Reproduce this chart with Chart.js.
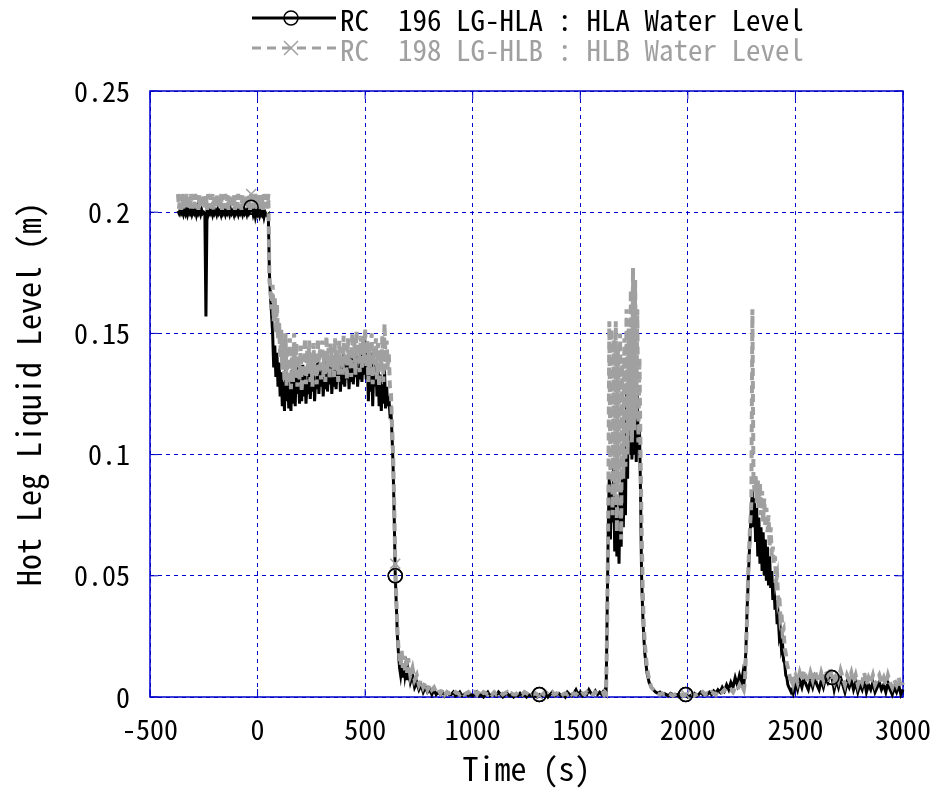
<!DOCTYPE html>
<html>
<head>
<meta charset="utf-8">
<script src="https://cdn.jsdelivr.net/npm/chart.js@4.4.0/dist/chart.umd.min.js"></script>
<style>
    body { margin: 0; background: #fff; }
    #wrap { position: relative; width: 933px; height: 792px; }
    #legend {
        position: absolute; left: 250px; top: 3px;
        font-family: 'Noto Sans Mono CJK JP', 'Liberation Mono', monospace;
        font-size: 29px; line-height: 30px;
    }
    .row { display: flex; align-items: center; height: 30px; white-space: pre; }
    .row svg { width: 90px; height: 30px; flex: none; }
</style>
</head>
<body>
<div id="wrap">
    <canvas id="levelChart" width="933" height="792"></canvas>
    <div id="legend">
        <div class="row" style="color:#000">
            <svg viewBox="0 0 90 30"><line x1="2" y1="15" x2="86" y2="15" stroke="#000" stroke-width="3"/><circle cx="41" cy="15" r="7" fill="none" stroke="#000" stroke-width="1.5"/></svg><span>RC  196 LG-HLA : HLA Water Level</span>
        </div>
        <div class="row" style="color:#a0a0a0">
            <svg viewBox="0 0 90 30"><line x1="2" y1="15" x2="86" y2="15" stroke="#a0a0a0" stroke-width="3" stroke-dasharray="9 6"/><path d="M34 8 L48 22 M48 8 L34 22" stroke="#a0a0a0" stroke-width="1.5"/></svg><span>RC  198 LG-HLB : HLB Water Level</span>
        </div>
    </div>
</div>
<script>
// stretches of the record: first time (s), sample step (s), number of samples
const stretches = [
    { start: -400, step: 5, count: 220 },   // steady state, first drain
    { start: 700, step: 10, count: 90 },
    { start: 1600, step: 5, count: 40 },    // first surge
    { start: 1800, step: 10, count: 45 },
    { start: 2250, step: 5, count: 50 },    // second surge
    { start: 2500, step: 10, count: 51 }
];

// RC 196 LG-HLA : HLA water level (m)
const levelHLA = [
    // -400 .. 695 s
    null, null, null, null, null, null, 0.2005, 0.1995, 0.201, 0.1995,
    0.2005, 0.199, 0.201, 0.1995, 0.2015, 0.199, 0.2005, 0.1995, 0.201, 0.199,
    0.2005, 0.1995, 0.201, 0.199, 0.2015, 0.1995, 0.2005, 0.199, 0.201, 0.1995,
    0.2, 0.1995, 0.157, 0.2005, 0.199, 0.201, 0.1995, 0.2005, 0.199, 0.2015,
    0.1995, 0.2005, 0.199, 0.201, 0.1995, 0.2005, 0.199, 0.2015, 0.1995, 0.2005,
    0.199, 0.201, 0.1995, 0.2005, 0.199, 0.201, 0.1995, 0.2005, 0.199, 0.2015,
    0.1995, 0.2005, 0.199, 0.201, 0.1995, 0.2005, 0.199, 0.201, 0.1995, 0.2005,
    0.199, 0.201, 0.1995, 0.2005, 0.202, 0.2015, 0.199, 0.2005, 0.198, 0.2,
    0.199, 0.2005, 0.1985, 0.2, 0.199, 0.2005, 0.198, 0.2, 0.199, 0.1985,
    0.199, 0.175, 0.165, 0.158, 0.15, 0.136, 0.145, 0.132, 0.142, 0.128,
    0.138, 0.124, 0.134, 0.12, 0.13, 0.118, 0.136, 0.122, 0.132, 0.119,
    0.128, 0.118, 0.135, 0.121, 0.13, 0.12, 0.138, 0.125, 0.133, 0.121,
    0.131, 0.122, 0.137, 0.124, 0.134, 0.121, 0.13, 0.125, 0.138, 0.123,
    0.133, 0.126, 0.136, 0.122, 0.131, 0.127, 0.139, 0.125, 0.134, 0.128,
    0.137, 0.124, 0.132, 0.127, 0.14, 0.126, 0.135, 0.129, 0.138, 0.125,
    0.133, 0.128, 0.141, 0.127, 0.136, 0.13, 0.139, 0.126, 0.134, 0.129,
    0.142, 0.128, 0.137, 0.131, 0.14, 0.127, 0.135, 0.13, 0.143, 0.129,
    0.138, 0.132, 0.141, 0.128, 0.136, 0.131, 0.145, 0.13, 0.139, 0.133,
    0.147, 0.131, 0.14, 0.122, 0.136, 0.126, 0.142, 0.12, 0.134, 0.128,
    0.139, 0.124, 0.137, 0.12, 0.133, 0.118, 0.129, 0.121, 0.135, 0.119,
    0.128, 0.12, 0.124, 0.117, 0.118, 0.108, 0.095, 0.075, 0.05, 0.038,
    0.025, 0.018, 0.012, 0.009, 0.013, 0.008, 0.014, 0.009, 0.012, 0.007,
    // 700 .. 1590 s
    0.011, 0.006, 0.009, 0.004, 0.006, 0.003, 0.005, 0.002, 0.004, 0.002,
    0.003, 0.001, 0.003, 0.001, 0.002, 0.001, 0.002, 0.0005, 0.002, 0.001,
    0.001, 0.002, 0.0005, 0.001, 0.002, 0.0005, 0.001, 0.0015, 0.0005, 0.001,
    0.0005, 0.001, 0.002, 0.0005, 0.001, 0, 0.001, 0.002, 0.0005, 0.001,
    0.001, 0.0005, 0.002, 0.001, 0, 0.001, 0.0015, 0.0005, 0.001, 0,
    0.001, 0.0005, 0.0015, 0.0005, 0.001, 0, 0.001, 0.0005, 0.0015, 0.0005,
    0, 0.001, 0.0005, 0.001, 0.0015, 0, 0.001, 0.002, 0.0005, 0.001,
    0.0015, 0.0005, 0.001, 0, 0.002, 0.001, 0.0005, 0.0015, 0.003, 0.001,
    0.002, 0.0005, 0.0015, 0.001, 0.003, 0.0015, 0.001, 0.0025, 0.001, 0.002,
    // 1600 .. 1795 s
    0.001, 0.002, 0.0015, 0.003, 0.002, 0.035, 0.07, 0.092, 0.065, 0.088,
    0.072, 0.095, 0.06, 0.082, 0.058, 0.078, 0.055, 0.085, 0.062, 0.09,
    0.07, 0.098, 0.075, 0.125, 0.09, 0.15, 0.1, 0.13, 0.098, 0.122,
    0.1, 0.118, 0.097, 0.125, 0.102, 0.112, 0.085, 0.05, 0.035, 0.025,
    // 1800 .. 2240 s
    0.018, 0.01, 0.006, 0.004, 0.003, 0.002, 0.0015, 0.002, 0.001, 0.0015,
    0.001, 0.0005, 0.0015, 0.001, 0.0005, 0.001, 0, 0.001, 0.0005, 0.001,
    0, 0.0005, 0.001, 0.0015, 0.0005, 0.001, 0.002, 0.001, 0.0015, 0.001,
    0.002, 0.001, 0.0025, 0.0015, 0.003, 0.002, 0.004, 0.0025, 0.005, 0.003,
    0.006, 0.004, 0.008, 0.005, 0.009,
    // 2250 .. 2495 s
    0.006, 0.009, 0.005, 0.01, 0.02, 0.035, 0.047, 0.058, 0.068, 0.078,
    0.085, 0.07, 0.082, 0.064, 0.078, 0.058, 0.074, 0.055, 0.07, 0.052,
    0.068, 0.05, 0.065, 0.048, 0.062, 0.046, 0.058, 0.045, 0.052, 0.04,
    0.047, 0.036, 0.04, 0.03, 0.033, 0.025, 0.027, 0.02, 0.022, 0.015,
    0.014, 0.009, 0.008, 0.005, 0.004, 0.003, 0.002, 0.003, 0.0015, 0.003,
    // 2500 .. 3000 s
    0.006, 0.003, 0.007, 0.004, 0.008, 0.005, 0.003, 0.007, 0.004, 0.008,
    0.005, 0.003, 0.007, 0.004, 0.008, 0.006, 0.009, 0.008, 0.003, 0.007,
    0.004, 0.008, 0.005, 0.002, 0.006, 0.004, 0.007, 0.003, 0.006, 0.002,
    0.005, 0.003, 0.007, 0.002, 0.005, 0.003, 0.006, 0.002, 0.004, 0.006,
    0.003, 0.005, 0.002, 0.006, 0.003, 0.001, 0.004, 0.002, 0.005, 0.001,
    0.003
];

// RC 198 LG-HLB : HLB water level (m)
const levelHLB = [
    // -400 .. 695 s
    null, null, null, null, null, null, 0.2075, 0.2015, 0.207, 0.201,
    0.2075, 0.2015, 0.207, 0.202, 0.2075, 0.2015, 0.207, 0.201, 0.2075, 0.2015,
    0.207, 0.202, 0.2075, 0.2015, 0.207, 0.201, 0.2075, 0.2015, 0.207, 0.202,
    0.2075, 0.2015, 0.207, 0.201, 0.2075, 0.202, 0.207, 0.2015, 0.2075, 0.201,
    0.207, 0.2015, 0.2075, 0.202, 0.207, 0.2015, 0.2075, 0.201, 0.207, 0.202,
    0.2075, 0.2015, 0.207, 0.201, 0.2075, 0.202, 0.207, 0.2015, 0.2075, 0.201,
    0.207, 0.202, 0.2075, 0.2015, 0.207, 0.201, 0.2075, 0.2015, 0.207, 0.202,
    0.2075, 0.2015, 0.207, 0.201, 0.2075, 0.2015, 0.207, 0.202, 0.2075, 0.2015,
    0.207, 0.201, 0.2075, 0.2015, 0.207, 0.201, 0.2075, 0.202, 0.207, 0.2015,
    0.2075, 0.172, 0.168, 0.16, 0.17, 0.155, 0.165, 0.15, 0.162, 0.148,
    0.155, 0.14, 0.152, 0.135, 0.148, 0.13, 0.15, 0.128, 0.145, 0.132,
    0.148, 0.127, 0.143, 0.13, 0.15, 0.133, 0.146, 0.128, 0.141, 0.131,
    0.145, 0.126, 0.14, 0.132, 0.148, 0.129, 0.143, 0.134, 0.147, 0.13,
    0.142, 0.128, 0.146, 0.133, 0.14, 0.129, 0.148, 0.135, 0.144, 0.131,
    0.147, 0.132, 0.142, 0.13, 0.149, 0.134, 0.144, 0.131, 0.146, 0.136,
    0.141, 0.132, 0.148, 0.135, 0.143, 0.13, 0.147, 0.136, 0.142, 0.133,
    0.149, 0.134, 0.145, 0.131, 0.148, 0.137, 0.143, 0.132, 0.15, 0.136,
    0.146, 0.133, 0.151, 0.138, 0.144, 0.134, 0.149, 0.135, 0.147, 0.139,
    0.152, 0.136, 0.147, 0.13, 0.145, 0.133, 0.15, 0.129, 0.144, 0.137,
    0.148, 0.131, 0.146, 0.128, 0.143, 0.135, 0.149, 0.13, 0.154, 0.138,
    0.147, 0.135, 0.142, 0.128, 0.125, 0.112, 0.1, 0.08, 0.055, 0.04,
    0.028, 0.02, 0.016, 0.013, 0.019, 0.012, 0.017, 0.011, 0.015, 0.01,
    // 700 .. 1590 s
    0.016, 0.009, 0.012, 0.007, 0.009, 0.005, 0.007, 0.004, 0.006, 0.003,
    0.005, 0.003, 0.004, 0.002, 0.003, 0.0015, 0.003, 0.001, 0.002, 0.0015,
    0.002, 0.001, 0.002, 0.0015, 0.001, 0.002, 0.001, 0.0015, 0.002, 0.001,
    0.0015, 0.002, 0.001, 0.0025, 0.001, 0.002, 0.0015, 0.001, 0.002, 0.001,
    0.002, 0.001, 0.0015, 0.002, 0.001, 0.0015, 0.002, 0.001, 0.0015, 0.001,
    0.001, 0.002, 0.0015, 0.001, 0.002, 0.0015, 0.001, 0.002, 0.001, 0.0015,
    0.001, 0.0005, 0.0015, 0.001, 0.002, 0.001, 0.0015, 0.002, 0.001, 0.0015,
    0.001, 0.002, 0.001, 0.0015, 0.001, 0.002, 0.001, 0.0015, 0.001, 0.002,
    0.001, 0.0015, 0.001, 0.002, 0.001, 0.0015, 0.001, 0.002, 0.0015, 0.001,
    // 1600 .. 1795 s
    0.001, 0.0015, 0.001, 0.002, 0.0015, 0.03, 0.075, 0.155, 0.09, 0.152,
    0.075, 0.148, 0.08, 0.155, 0.068, 0.145, 0.085, 0.15, 0.065, 0.14,
    0.09, 0.148, 0.095, 0.16, 0.1, 0.152, 0.11, 0.168, 0.105, 0.177,
    0.11, 0.172, 0.115, 0.16, 0.105, 0.14, 0.1, 0.07, 0.045, 0.03,
    // 1800 .. 2240 s
    0.022, 0.012, 0.007, 0.004, 0.003, 0.002, 0.0015, 0.001, 0.0015, 0.001,
    0.001, 0.0015, 0.001, 0.0005, 0.001, 0.0015, 0.0005, 0.001, 0.0005, 0.001,
    0.0005, 0.001, 0.0015, 0.0005, 0.001, 0.0015, 0.001, 0.002, 0.001, 0.0015,
    0.001, 0.002, 0.0015, 0.001, 0.0025, 0.0015, 0.002, 0.003, 0.002, 0.0025,
    0.003, 0.002, 0.004, 0.003, 0.005,
    // 2250 .. 2495 s
    0.003, 0.004, 0.003, 0.006, 0.018, 0.032, 0.05, 0.062, 0.072, 0.08,
    0.16, 0.09, 0.085, 0.092, 0.08, 0.09, 0.078, 0.088, 0.075, 0.085,
    0.072, 0.082, 0.07, 0.078, 0.068, 0.075, 0.062, 0.07, 0.058, 0.062,
    0.055, 0.058, 0.048, 0.05, 0.04, 0.042, 0.033, 0.035, 0.027, 0.028,
    0.02, 0.018, 0.014, 0.012, 0.01, 0.008, 0.007, 0.009, 0.006, 0.008,
    // 2500 .. 3000 s
    0.009, 0.006, 0.01, 0.007, 0.011, 0.008, 0.006, 0.01, 0.007, 0.011,
    0.008, 0.006, 0.01, 0.007, 0.011, 0.009, 0.012, 0.008, 0.006, 0.01,
    0.007, 0.011, 0.008, 0.005, 0.009, 0.007, 0.01, 0.006, 0.009, 0.005,
    0.008, 0.006, 0.01, 0.005, 0.008, 0.006, 0.009, 0.005, 0.007, 0.009,
    0.006, 0.008, 0.005, 0.009, 0.006, 0.004, 0.007, 0.005, 0.008, 0.004,
    0.006
];

// times where the plotting program put a marker on each curve
const markerTimes = [-30, 640, 1310, 1990, 2670];

const xTicks = [-500, 0, 500, 1000, 1500, 2000, 2500, 3000];
const yTicks = [0, 0.05, 0.1, 0.15, 0.2, 0.25];

const gridBlue = '#0000cc';
const grayLine = '#a0a0a0';

// time axis of the record, sample by sample
const timeS = [];
stretches.forEach(s => {
    for (let i = 0; i < s.count; i++) timeS.push(s.start + i * s.step);
});

Chart.defaults.font.family = "'Noto Sans Mono CJK JP', 'Liberation Mono', monospace";
Chart.defaults.color = '#000';

function markerRadius(ctx) {
    return markerTimes.includes(timeS[ctx.dataIndex]) ? 7 : 0;
}

// solid frame plus short inner ticks on every side, like the original plot
const framePlugin = {
    id: 'frame',
    beforeDatasetsDraw(chart) {
        const { ctx, chartArea: a, scales } = chart;
        ctx.save();
        ctx.strokeStyle = gridBlue;
        ctx.lineWidth = 1.5;
        ctx.setLineDash([]);
        ctx.strokeRect(a.left, a.top, a.right - a.left, a.bottom - a.top);
        ctx.lineWidth = 1;
        ctx.beginPath();
        xTicks.forEach(v => {
            const x = scales.x.getPixelForValue(v);
            ctx.moveTo(x, a.bottom); ctx.lineTo(x, a.bottom - 8);
            ctx.moveTo(x, a.top); ctx.lineTo(x, a.top + 8);
        });
        yTicks.forEach(v => {
            const y = scales.y.getPixelForValue(v);
            ctx.moveTo(a.left, y); ctx.lineTo(a.left + 8, y);
            ctx.moveTo(a.right, y); ctx.lineTo(a.right - 8, y);
        });
        ctx.stroke();
        ctx.restore();
    },
    // the HLA circles sit on top of the grey HLB trace
    afterDatasetsDraw(chart) {
        const ctx = chart.ctx;
        ctx.save();
        chart.getDatasetMeta(0).data.forEach(pt => {
            if (pt.options.radius > 0) pt.draw(ctx);
        });
        ctx.restore();
    }
};

const canvas = document.getElementById('levelChart');

const chart = new Chart(canvas, {
    type: 'line',
    data: {
        datasets: [
            {
                label: 'RC  196 LG-HLA : HLA Water Level',
                data: timeS.map((t, i) => ({ x: t, y: levelHLA[i] })),
                borderColor: '#000',
                borderWidth: 3,
                pointStyle: 'circle',
                pointRadius: markerRadius,
                pointHoverRadius: 0,
                pointBorderColor: '#000',
                pointBorderWidth: 1.5,
                pointBackgroundColor: 'rgba(0,0,0,0)',
                tension: 0,
                clip: false,
                order: 2
            },
            {
                label: 'RC  198 LG-HLB : HLB Water Level',
                data: timeS.map((t, i) => ({ x: t, y: levelHLB[i] })),
                borderColor: grayLine,
                borderWidth: 4,
                borderDash: [8, 5],
                pointStyle: 'crossRot',
                pointRadius: markerRadius,
                pointHoverRadius: 0,
                pointBorderColor: grayLine,
                pointBorderWidth: 1.5,
                pointBackgroundColor: 'rgba(0,0,0,0)',
                tension: 0,
                clip: false,
                order: 1
            }
        ]
    },
    options: {
        responsive: false,
        animation: false,
        layout: { padding: { top: 91, right: 30, left: 0, bottom: 0 } },
        plugins: {
            legend: { display: false },
            tooltip: { enabled: false }
        },
        scales: {
            x: {
                type: 'linear',
                min: -500,
                max: 3000,
                afterBuildTicks: scale => { scale.ticks = xTicks.map(v => ({ value: v })); },
                afterFit: scale => {
                    scale.height = 95;
                    scale.paddingLeft = 0;
                    scale.paddingRight = 0;
                },
                ticks: {
                    font: { size: 28 },
                    padding: 16,
                    maxRotation: 0,
                    callback: v => String(v)
                },
                grid: { color: gridBlue, lineWidth: 1, drawTicks: false },
                border: { display: false, dash: [4, 4] },
                title: {
                    display: true,
                    text: 'Time (s)',
                    font: { size: 32 },
                    padding: { top: 0, bottom: 4 }
                }
            },
            y: {
                type: 'linear',
                min: 0,
                max: 0.25,
                afterBuildTicks: scale => { scale.ticks = yTicks.map(v => ({ value: v })); },
                afterFit: scale => { scale.width = 150; },
                ticks: {
                    font: { size: 28 },
                    padding: 20,
                    callback: v => v === 0 ? '0' : v.toFixed(2).replace(/0$/, '')
                },
                grid: { color: gridBlue, lineWidth: 1, drawTicks: false },
                border: { display: false, dash: [4, 4] },
                title: {
                    display: true,
                    text: 'Hot Leg Liquid Level (m)',
                    font: { size: 32 },
                    padding: { top: 10, bottom: 0 }
                }
            }
        }
    },
    plugins: [framePlugin]
});
</script>
</body>
</html>
